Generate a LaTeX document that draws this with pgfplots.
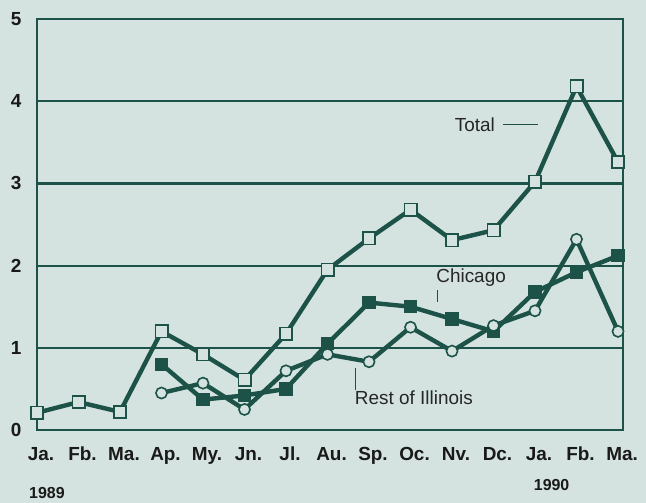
\documentclass[border=0pt]{standalone}
\usepackage{pgfplots}
\pgfplotsset{compat=1.18}
\usepackage{fontspec}
\setmainfont{Liberation Sans}
\usetikzlibrary{backgrounds}
\definecolor{bg}{RGB}{212,227,223}
\definecolor{ink}{RGB}{28,82,72}

\begin{document}
\begin{tikzpicture}
\begin{axis}[
    scale only axis,
    width=586bp, height=411bp,
    xmin=0, xmax=14.12, ymin=0, ymax=5,
    xtick={0,...,14},
    xticklabels={Ja.,Fb.,Ma.,Ap.,My.,Jn.,Jl.,Au.,Sp.,Oc.,Nv.,Dc.,Ja.,Fb.,Ma.},
    ytick={0,...,5},
    major tick length=0pt,
    ymajorgrids,
    grid style={ink, line width=2.2bp},
    axis line style={ink, line width=2.4bp},
    ticklabel style={font=\fontsize{19}{21}\selectfont\bfseries, text=black!90},
    xticklabel style={text height=14bp, text depth=4bp, yshift=-13bp, xshift=4bp},
    yticklabel style={xshift=-12bp},
    /pgf/number format/assume math mode=true,
    clip=false,
    every axis plot/.append style={ink, line width=4.4bp},
]

% Total
\addplot[mark=square*, mark size=6.2bp,
    mark options={fill=bg, draw=ink, line width=1.6bp}]
  coordinates {(0,0.21) (1,0.34) (2,0.22) (3,1.2) (4,0.92) (5,0.61) (6,1.17)
               (7,1.95) (8,2.33) (9,2.68) (10,2.31) (11,2.43) (12,3.02) (13,4.18) (14,3.26)};

% Chicago
\addplot[mark=square*, mark size=6.2bp,
    mark options={fill=ink, draw=ink, line width=1pt}]
  coordinates {(3,0.8) (4,0.37) (5,0.42) (6,0.5) (7,1.05) (8,1.55) (9,1.5)
               (10,1.35) (11,1.2) (12,1.68) (13,1.92) (14,2.12)};

% Rest of Illinois
\addplot[mark=*, mark size=5.6bp,
    mark options={fill=bg, draw=ink, line width=1.6bp}]
  coordinates {(3,0.45) (4,0.57) (5,0.25) (6,0.72) (7,0.92) (8,0.83) (9,1.25)
               (10,0.96) (11,1.27) (12,1.45) (13,2.32) (14,1.2)};

% labels
\node[font=\fontsize{19}{20}\selectfont, text=black!85] at (axis cs:10.55,3.71) {Total};
\draw[ink, line width=1.1bp] (axis cs:11.23,3.72) -- (axis cs:12.08,3.72);
\node[font=\fontsize{19}{20}\selectfont, text=black!85] at (axis cs:10.46,1.85) {Chicago};
\draw[ink, line width=1.1bp] (axis cs:9.66,1.70) -- (axis cs:9.66,1.56);
\node[font=\fontsize{19}{20}\selectfont, text=black!85] at (axis cs:9.08,0.39) {Rest of Illinois};
\draw[ink, line width=1.1bp] (axis cs:7.68,0.75) -- (axis cs:7.68,0.49);

\node[font=\fontsize{16}{18}\selectfont\bfseries, text=black!90] at (axis cs:0.24,-0.77) {1989};
\node[font=\fontsize{16}{18}\selectfont\bfseries, text=black!90] at (axis cs:12.4,-0.67) {1990};
\end{axis}
\begin{scope}[on background layer]
\fill[bg] ([shift={(-37bp,-73bp)}]current axis.south west)
    rectangle ([shift={(23bp,19bp)}]current axis.north east);
\end{scope}
\end{tikzpicture}
\end{document}
